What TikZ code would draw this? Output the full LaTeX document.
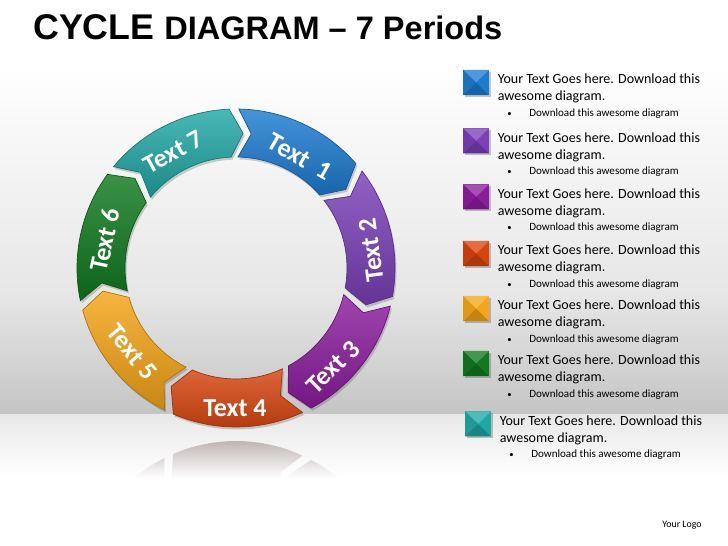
\documentclass[tikz,border=0pt]{standalone}
\usepackage{fontspec}
\setmainfont{Carlito}
\newfontfamily\titlefont{Liberation Sans}
\usetikzlibrary{calc}
\definecolor{c1}{HTML}{1C7CD2}
\definecolor{c2}{HTML}{7B3FB8}
\definecolor{c3}{HTML}{8C1C9E}
\definecolor{c4}{HTML}{D8440E}
\definecolor{c5}{HTML}{F5A516}
\definecolor{c6}{HTML}{0F7A1E}
\definecolor{c7}{HTML}{20A8A6}
\definecolor{bgmid}{HTML}{E6E6E6}
\definecolor{bgdark}{HTML}{C4C4C4}
\definecolor{floorc}{HTML}{E8E8E8}
\definecolor{reflc}{HTML}{B4A8A6}
\def\Ro{159}\def\Ri{111}\def\Rm{135}
\newcommand\segcalc[1]{%
  \pgfmathsetmacro\sa{90-(#1-1)*360/7-1}%
  \pgfmathsetmacro\sb{90-(#1)*360/7+2.5}%
  \pgfmathsetmacro\sn{\sa-5.5}%
  \pgfmathsetmacro\st{\sb-5.5}}
\newcommand\segpath{(\sa:\Ro) arc[start angle=\sa, end angle=\sb, radius=\Ro] -- (\st:\Rm) -- (\sb:\Ri) arc[start angle=\sb, end angle=\sa, radius=\Ri] -- (\sn:\Rm) -- cycle}
\tikzset{
  seglabel/.style={text=white, font=\fontsize{19.5}{19.5}\selectfont\bfseries, inner sep=0pt},
  legmain/.style={anchor=base west, inner sep=0pt, font=\fontsize{10.5}{12}\selectfont},
  legsub/.style={anchor=base west, inner sep=0pt, font=\fontsize{8.3}{10}\selectfont},
}
\begin{document}
\begin{tikzpicture}[x=0.75pt,y=0.75pt]
\useasboundingbox (0,0) rectangle (728,546);
% background
\fill[white] (0,0) rectangle (728,546);
\shade[top color=white, bottom color=bgmid] (0,480) rectangle (728,250);
\shade[top color=bgmid, bottom color=bgdark] (0,250.2) rectangle (728,131);
\shade[top color=floorc, bottom color=white] (0,131) rectangle (728,70);
% reflection
\foreach \k in {3,4,5}{
  \begin{scope}[shift={(0,224)}, yscale=-1]
    \begin{scope}[shift={(236,278)}]
      \segcalc{\k}
      \clip \segpath;
      \shade[top color=reflc, bottom color=white] (-200,-166) rectangle (200,-122);
    \end{scope}
  \end{scope}
}
% cycle segments
\begin{scope}[shift={(236,278)}]
  \coordinate (ctr) at (0,0);
  \foreach \k/\col in {1/c1,2/c2,3/c3,4/c4,5/c5,6/c6,7/c7}{
    \segcalc{\k}
    \fill[black, opacity=.18, shift={(1.5,-2.5)}] \segpath;
    \shade[top color=\col!82!white, bottom color=\col!82!black, draw=\col!70!black, line width=.5] \segpath;
  }
\end{scope}
% segment labels
\node[seglabel, rotate=-30]  (t1) at (300,389) {Text\ \ 1};
\node[seglabel, rotate=97.6] (t2) at (371,296) {Text 2};
\node[seglabel, rotate=44.4] (t3) at (333,179) {Text 3};
\node[seglabel]              (t4) at (235,138) {Text 4};
\node[seglabel, rotate=-51]  (t5) at (132,194) {Text 5};
\node[seglabel, rotate=77.9] (t6) at (105,306) {Text 6};
\node[seglabel, rotate=28.5] (t7) at (173,394) {Text 7};
% title
\node[anchor=base west, inner sep=0pt] (title) at (33,506)
  {\titlefont\bfseries\fontsize{26.8}{30}\selectfont CYCLE \fontsize{24.4}{30}\selectfont DIAGRAM – 7 Periods};
% legend
\foreach \i/\col/\yc/\xo in {1/c1/80.7/0, 2/c2/139/0, 3/c3/195/0, 4/c4/251.7/0, 5/c5/306.7/0, 6/c6/361.7/0, 7/c7/422/2}{
  \pgfmathsetmacro\ya{546-\yc-3.3}
  \pgfmathsetmacro\yb{\ya-17}
  \pgfmathsetmacro\yd{546-\yc-33-2.6}
  \pgfmathsetmacro\sqt{546-\yc+10.7}
  \pgfmathsetmacro\sqb{546-\yc-14.5}
  \pgfmathsetmacro\sql{463+\xo}
  \pgfmathsetmacro\sqr{489+\xo}
  \pgfmathsetmacro\sqx{476+\xo}
  \pgfmathsetmacro\sqy{546-\yc-1.9}
  \fill[black, opacity=.22] (\sql+1.5,\sqb-2) rectangle (\sqr+1.5,\sqt-2);
  \fill[\col] (\sql,\sqb) rectangle (\sqr,\sqt);
  \fill[\col!78!white] (\sql,\sqt) -- (\sqr,\sqt) -- (\sqx,\sqy) -- cycle;
  \fill[\col!80!black] (\sql,\sqb) -- (\sqr,\sqb) -- (\sqx,\sqy) -- cycle;
  \fill[\col!92!black] (\sql,\sqb) -- (\sql,\sqt) -- (\sqx,\sqy) -- cycle;
  \node[legmain] (la\i) at (497.5+\xo,\ya) {Your Text Goes here. Download this};
  \node[legmain] (lb\i) at (497.5+\xo,\yb) {awesome diagram.};
  \node[legsub]  (lc\i) at (507+\xo,\yd) {\fontsize{6.5}{8}\selectfont •};
  \node[legsub]  (ld\i) at (529+\xo,\yd) {Download this awesome diagram};
}
\node[inner sep=0pt, font=\fontsize{7.4}{9}\selectfont] (logo) at (682,21) {Your Logo};
\end{tikzpicture}
\end{document}
